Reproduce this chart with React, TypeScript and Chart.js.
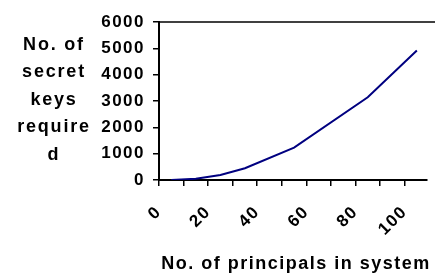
import React, { useEffect, useRef } from "react";
import { Chart, registerables } from "chart.js";

Chart.register(...registerables);

const principals = [5, 15, 25, 35, 55, 85, 105];
const secretKeys = [0, 45, 190, 445, 1228, 3144, 4916];
const xTickValues = [0, 10, 20, 30, 40, 50, 60, 70, 80, 90, 100];
const xLabelValues = [0, 20, 40, 60, 80, 100];
const yTickValues = [0, 1000, 2000, 3000, 4000, 5000, 6000];
const yTitleLines = ["No. of", "secret", "keys", "require", "d"];
const xTitle = "No. of principals in system";

const FONT = "'Liberation Sans', Arial, sans-serif";

const textPlugin = {
  id: "textPlugin",
  beforeLayout(chart: any) {
    chart.ctx.letterSpacing = "1.5px";
  },
  beforeDraw(chart: any) {
    chart.ctx.letterSpacing = "1.5px";
  },
  afterDraw(chart: any) {
    const ctx = chart.ctx as CanvasRenderingContext2D;
    const { left, top } = chart.chartArea;
    ctx.save();
    ctx.strokeStyle = "#000";
    ctx.lineWidth = 1.5;
    ctx.beginPath();
    ctx.moveTo(left, top);
    ctx.lineTo(chart.width, top);
    ctx.stroke();

    ctx.fillStyle = "#000";
    ctx.font = `bold 18px ${FONT}`;
    (ctx as any).letterSpacing = "1.8px";
    ctx.textAlign = "center";
    ctx.textBaseline = "middle";
    yTitleLines.forEach((line, i) => {
      ctx.fillText(line, 54, 45 + i * 27.5);
    });
    (ctx as any).letterSpacing = "1.5px";
    ctx.fillText(xTitle, 296, 264);
    ctx.restore();
  },
};

export default function App() {
  const canvasRef = useRef<HTMLCanvasElement | null>(null);

  useEffect(() => {
    const canvas = canvasRef.current;
    if (!canvas) return;
    const chart = new Chart(canvas, {
      type: "line",
      data: {
        datasets: [
          {
            data: principals.map((x, i) => ({ x, y: secretKeys[i] })),
            borderColor: "#000080",
            borderWidth: 2,
            pointRadius: 0,
            tension: 0,
            fill: false,
          },
        ],
      },
      options: {
        animation: false,
        responsive: false,
        devicePixelRatio: 1,
        layout: { padding: { top: 22, left: 0, right: 0, bottom: 0 } },
        plugins: {
          legend: { display: false },
          tooltip: { enabled: false },
          title: { display: false },
        },
        scales: {
          x: {
            type: "linear",
            min: 0,
            max: 109.2,
            afterBuildTicks: (scale: any) => {
              scale.ticks = xTickValues.map((v) => ({ value: v }));
            },
            afterFit: (scale: any) => {
              scale.height = 95;
            },
            border: { display: true, color: "#000", width: 2 },
            grid: {
              display: true,
              drawOnChartArea: false,
              drawTicks: true,
              tickLength: 6,
              color: "#000",
              lineWidth: 1.5,
            },
            ticks: {
              autoSkip: false,
              minRotation: 45,
              maxRotation: 45,
              padding: 16,
              color: "#000",
              font: { family: FONT, size: 17, weight: "bold" },
              callback: (v: any) => (xLabelValues.includes(Number(v)) ? String(v) : ""),
            },
          },
          y: {
            type: "linear",
            min: 0,
            max: 6000,
            afterBuildTicks: (scale: any) => {
              scale.ticks = yTickValues.map((v) => ({ value: v }));
            },
            afterFit: (scale: any) => {
              scale.width = 159;
            },
            border: { display: true, color: "#000", width: 2 },
            grid: {
              display: true,
              drawOnChartArea: false,
              drawTicks: true,
              tickLength: 6,
              color: "#000",
              lineWidth: 1.5,
            },
            ticks: {
              padding: 8,
              color: "#000",
              font: { family: FONT, size: 17, weight: "bold" },
              callback: (v: any) => String(v),
            },
          },
        },
      },
      plugins: [textPlugin],
    });
    return () => chart.destroy();
  }, []);

  return (
    <div style={{ position: "absolute", left: 0, top: 0, width: 435, height: 275, background: "#fff" }}>
      <canvas ref={canvasRef} width={435} height={275} style={{ display: "block" }} />
    </div>
  );
}
